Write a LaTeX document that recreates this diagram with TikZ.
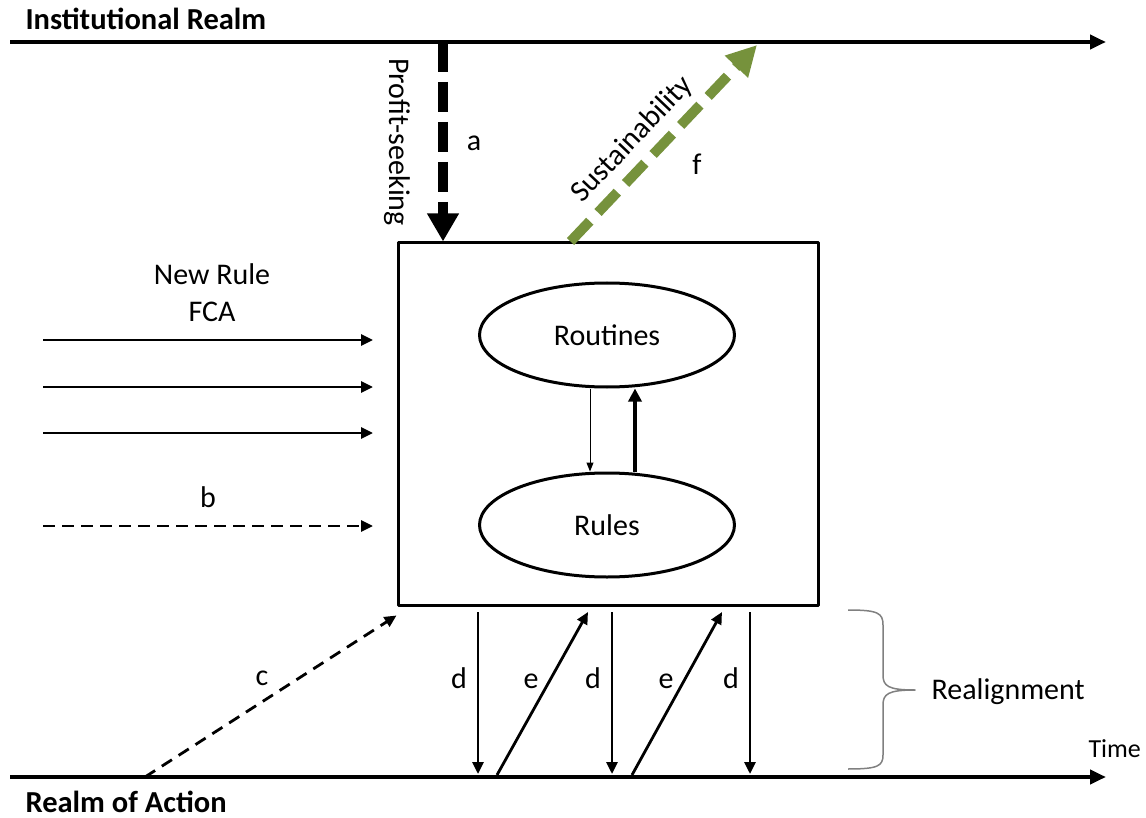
\documentclass[tikz,border=0pt]{standalone}
\usepackage{fontspec}
\setmainfont{Carlito}
\usetikzlibrary{arrows.meta,shapes.geometric,positioning}
\definecolor{sustgreen}{RGB}{118,146,60}
\definecolor{bracegray}{RGB}{128,128,128}
\begin{document}
\begin{tikzpicture}[x=1pt, y=-1pt, font=\fontsize{30}{36}\selectfont, line join=round,
	realm/.style={line width=4pt, -{Triangle[length=16pt,width=14pt]}},
	flow/.style={line width=2.8pt, -{Triangle[length=12pt,width=11pt]}},
	bdash/.style={dash pattern=on 12pt off 7pt},
	oval/.style={ellipse, draw, line width=3pt, minimum width=255pt, minimum height=104pt, inner sep=0pt},
	realmname/.style={font=\fontsize{30.5}{36}\selectfont\bfseries, anchor=base west}]
	\useasboundingbox (0,0) rectangle (1146,818);
	\path
	(10,42) coordinate (I0)
	(1106,42) coordinate (I1)
	(10,777) coordinate (A0)
	(1106,777) coordinate (A1)
	(443,42) coordinate (P)
	(757,45) coordinate (S)
	(145,777) coordinate (C)
	;
	% the two realms
	\draw[realm] (I0)--(I1);
	\draw[realm] (A0)--(A1);
	\node[realmname] (ir) at (22,30) {Institutional Realm};
	\node[realmname] (ra) at (22,812) {Realm of Action};
	\node[font=\fontsize{26}{30}\selectfont, anchor=base west] (time) at (1085,757) {Time};
	
	% the firm
	\node[draw, line width=3pt, minimum width=420pt, minimum height=362pt] (firm) at (608,424) {};
	\node[oval] (routines) at (607,335) {Routines};
	\node[oval] (rules) at (607,525) {Rules};
	\draw[line width=1pt, -{Triangle[length=9pt,width=7pt]}] ([xshift=-17pt]routines.south) -- ([xshift=-17pt]rules.north);
	\draw[line width=4pt, -{Triangle[length=13pt,width=13pt]}] ([xshift=28pt]rules.north) -- ([xshift=28pt]routines.south);
	
	% a and f
	\draw[line width=10pt, dash pattern=on 30pt off 10pt, -{Triangle[length=28pt,width=30pt]}] (P) -- (P |- firm.north);
	\node[rotate=-90] (profit) at (397,142) {Profit-seeking};
	\node[anchor=base] (la) at (474,151) {a};
	\draw[line width=10pt, sustgreen, dash pattern=on 28pt off 12pt, -{Triangle[length=30pt,width=30pt]}] ([xshift=174pt]firm.north west) -- (S)
	node[pos=0.43, sloped, above=4pt, text=black] (sust) {Sustainability};
	\node[anchor=base] (lf) at (697,175) {f};
	
	% b
	\node[anchor=base] (newrule) at (212,285) {New Rule};
	\node[anchor=base] (fca) at (212,322) {FCA};
	\foreach \y/\s [count=\i] in {340/solid,387/solid,433/solid,526/bdash}{
		\coordinate (L\i) at (43,\y);
		\coordinate (R\i) at (373,\y);
		\draw[flow,\s] (L\i)--(R\i);
	}
	\node[anchor=base] (lb) at (208,507) {b};
	
	% c
	\draw[flow, dash pattern=on 12pt off 8pt] (C) -- ([yshift=-9pt]firm.south west);
	\node[anchor=base] (lc) at (262,685) {c};
	
	% d and e
	\foreach \x [count=\i] in {478,612,750}{
		\coordinate (D\i) at (\x,612);
		\coordinate (E\i) at (\x,774);
		\draw[flow] (D\i)--(E\i);
		\node[anchor=base] (ld\i) at (\x-19,688) {d};
	}
	\foreach \x/\t [count=\i] in {497/588,632/722}{
		\coordinate (F\i) at (\x,775);
		\coordinate (G\i) at (\t,612);
		\draw[flow] (F\i)--(G\i);
		\node[anchor=base] (le\i) at (\x+34,688) {e};
	}
	
	% realignment
	\draw[bracegray, line width=1.5pt] (848,610) .. controls (878,610) and (883,613) .. (883,625) -- (883,675)
	.. controls (883,686) and (888,690) .. (915,690) .. controls (888,690) and (883,694) .. (883,705) -- (883,755)
	.. controls (883,766) and (878,769) .. (848,769);
	\node[anchor=base west] (realign) at (928,699) {Realignment};
\end{tikzpicture}
\end{document}
